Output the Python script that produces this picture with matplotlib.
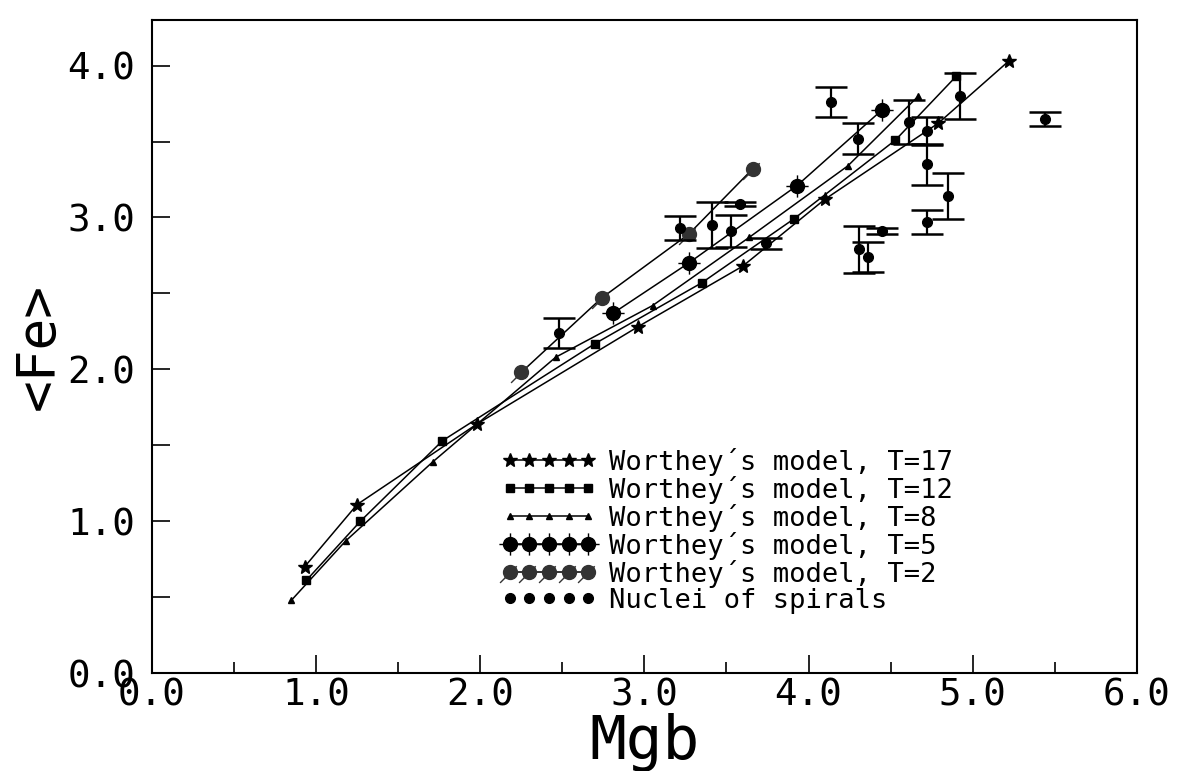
import numpy as np
import matplotlib
matplotlib.use("Agg")
import matplotlib.pyplot as plt
from matplotlib.path import Path
from matplotlib.lines import Line2D
from matplotlib.ticker import MultipleLocator, FormatStrFormatter

plt.rcParams['font.family'] = ['DejaVu Sans Mono', 'DejaVu Sans']

#########################
# DATA
#########################
mgb_t17 = [0.93, 1.25, 1.98, 2.96, 3.60, 4.10, 4.79, 5.22]
fe_t17 = [0.70, 1.11, 1.64, 2.28, 2.68, 3.12, 3.62, 4.03]

mgb_t12 = [0.94, 1.27, 1.77, 2.70, 3.35, 3.91, 4.53, 4.90]
fe_t12 = [0.61, 1.00, 1.53, 2.17, 2.57, 2.99, 3.51, 3.93]

mgb_t8 = [0.85, 1.18, 1.71, 2.46, 3.05, 3.64, 4.24, 4.67]
fe_t8 = [0.48, 0.87, 1.39, 2.08, 2.42, 2.87, 3.34, 3.80]

mgb_t5 = [2.81, 3.27, 3.93, 4.45]
fe_t5 = [2.37, 2.70, 3.21, 3.71]

mgb_t2 = [2.25, 2.74, 3.27, 3.66]
fe_t2 = [1.98, 2.47, 2.89, 3.32]

# nuclei of spirals, with <Fe> errors
mgb_nuc = [2.48, 3.22, 3.41, 3.53, 3.58, 3.74, 4.14, 4.30, 4.31,
           4.36, 4.45, 4.61, 4.72, 4.72, 4.72, 4.85, 4.92, 5.44]
fe_nuc = [2.24, 2.93, 2.95, 2.91, 3.09, 2.83, 3.76, 3.52, 2.79,
          2.74, 2.91, 3.63, 3.57, 3.35, 2.97, 3.14, 3.80, 3.65]
fe_err = [0.10, 0.08, 0.15, 0.105, 0.012, 0.035, 0.10, 0.10, 0.155,
          0.10, 0.02, 0.145, 0.09, 0.135, 0.08, 0.15, 0.15, 0.045]

labels = ["Worthey´s model, T=17", "Worthey´s model, T=12",
          "Worthey´s model, T=8", "Worthey´s model, T=5",
          "Worthey´s model, T=2", "Nuclei of spirals"]

#########################
# MARKERS
#########################
circ = Path.unit_circle()
M, L = Path.MOVETO, Path.LINETO
# filled circle with little cross arms (T=5)
cross_circle = Path(list(circ.vertices) + [(-1.6, 0), (1.6, 0), (0, -1.6), (0, 1.6)],
                    list(circ.codes) + [M, L, M, L])
# circle with a slash tail (T=2)
slash_circle = Path(list(circ.vertices) + [(-1.5, -1.5), (0.9, 0.9)],
                    list(circ.codes) + [M, L])

#########################
# PLOT
#########################
fig = plt.figure(figsize=(11.78, 7.71), dpi=100)
ax = fig.add_axes([0.129, 0.127, 0.836, 0.847])

lw = 1.1
ax.plot(mgb_t17, fe_t17, color='black', lw=lw, marker='*', ms=10, label=labels[0])
ax.plot(mgb_t12, fe_t12, color='black', lw=lw, marker='s', ms=6, label=labels[1])
ax.plot(mgb_t8, fe_t8, color='black', lw=lw, marker='^', ms=5, label=labels[2])
ax.plot(mgb_t5, fe_t5, color='black', lw=lw, marker=cross_circle, ms=16,
        mfc='black', mec='black', mew=1.0, label=labels[3])
ax.plot(mgb_t2, fe_t2, color='black', lw=lw, marker=slash_circle, ms=15,
        mfc='#333333', mec='#333333', mew=1.0, label=labels[4])
ax.errorbar(mgb_nuc, fe_nuc, yerr=fe_err, fmt='o', color='black', ms=7,
            elinewidth=1.6, capsize=11.5, capthick=1.8)

ax.set_xlim(0, 6)
ax.set_ylim(0, 4.3)

ax.xaxis.set_major_locator(MultipleLocator(1.0))
ax.xaxis.set_minor_locator(MultipleLocator(0.5))
ax.yaxis.set_major_locator(MultipleLocator(1.0))
ax.yaxis.set_minor_locator(MultipleLocator(0.5))
ax.xaxis.set_major_formatter(FormatStrFormatter('%.1f'))
ax.yaxis.set_major_formatter(FormatStrFormatter('%.1f'))

ax.tick_params(axis='x', which='major', direction='in', length=13, width=1.2,
               labelsize=27, pad=3)
ax.tick_params(axis='x', which='minor', direction='in', length=8, width=1.2)
ax.tick_params(axis='y', which='both', direction='in', length=13, width=1.2)
ax.tick_params(axis='y', which='major', labelsize=27, pad=12)

for sp in ax.spines.values():
    sp.set_linewidth(1.5)

ax.set_xlabel("Mgb", fontsize=44, labelpad=0)
ax.set_ylabel("<Fe>", fontsize=38, labelpad=2)

handles, labs = ax.get_legend_handles_labels()
handles.append(Line2D([], [], ls='none', marker='o', color='black', ms=7))
labs.append(labels[5])
ax.legend(handles, labs, loc='upper left', bbox_to_anchor=(0.355, 0.345),
          frameon=False, numpoints=5, fontsize=19.5, handlelength=3.5,
          handletextpad=0.45, labelspacing=0.0, borderpad=0, borderaxespad=0)

fig.savefig("out.png", dpi=100)
